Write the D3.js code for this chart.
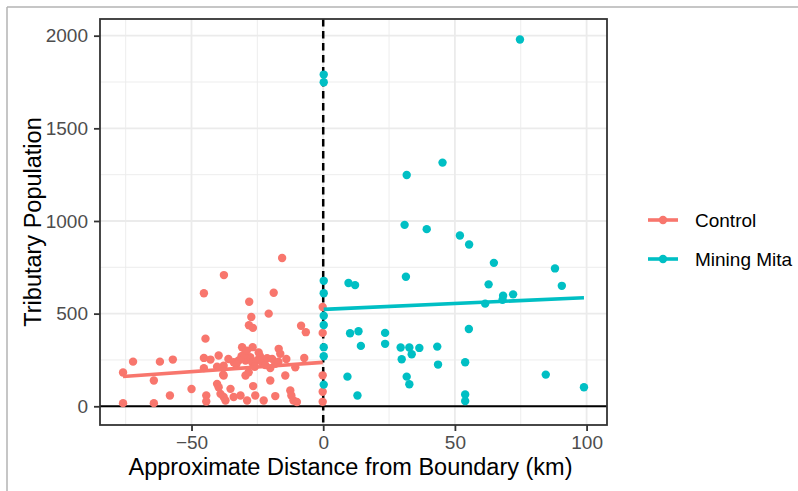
<!DOCTYPE html>
<html>
<head>
<meta charset="utf-8">
<script src="https://cdn.jsdelivr.net/npm/d3@7"></script>
<style>
  html, body { margin: 0; padding: 0; background: #fff; }
  svg { display: block; font-family: "Liberation Sans", Arial, sans-serif; }
</style>
</head>
<body>
<svg id="chart" width="798" height="491"></svg>
<script>
// ---- data ----
const groups = ["Control", "Mining Mita"];
const groupColors = ["#F8766D", "#00BFC4"];

const controlDist = [-15.6,-37.7,-45.3,-18.8,-28.1,-27.3,-20.7,-28.2,-26.7,-8.4,-6.6,-44.7,-30.8,-26.8,-16.9,-16.3,-72.2,-62,-57.1,-45.3,-42.8,-39.7,-76,-64.3,-58.2,-50,-76,-64.3,-44.4,-44.4,-7.2,-10.6,-37.8,-29.5,-28.3,-14.4,-20.1,-40.3,-39.7,-26.6,-35.2,-12.5,-12.1,-39,-37.8,-37.1,-34,-31.4,-28.9,-25.8,-22.6,-18.2,-11.3,-10,
  -37.8,-34,-32.1,-29.5,-27.7,-27,-25.1,-23.2,-21.3,-19.4,-18.2,-20.1,-45.3,-40.3,-38,-31,-24,-22,-33,-26,-14,-17,-30,-36,-24.5,-29,
  -0.2,-0.2,-0.2,-0.2,-0.2];
const controlPop = [800,708,610,613,564,482,500,437,423,435,400,365,319,319,310,283,241,241,252,261,252,274,182,139,58,93,17,17,58,26,261,211,166,166,184,166,139,121,103,109,94,85,58,67,50,31,50,58,31,58,31,55,31,23,
  219,238,247,247,265,238,247,238,260,256,229,206,206,214,170,270,270,222,226,213,255,240,280,255,290,300,
  536,396,167,78,24];

const mitaDist = [0.2,0.2,0.2,0.2,0.2,0.2,0.2,0.2,0.2,
  45.3,31.7,30.9,39.3,51.9,55.4,64.8,88,90.6,62.8,9.6,12.1,31.4,68.3,72.1,68.1,61.5,55.3,10.2,13.4,14.3,23.5,23.5,29.4,32.7,36.5,43.3,33.6,29.8,43.6,53.9,9.2,31.7,32.7,84.5,99,13,53.9,53.9,74.7];
const mitaPop = [1790,1749,677,610,489,439,319,270,117,
  1315,1248,979,956,922,873,774,744,650,658,665,654,699,597,604,575,554,417,394,405,326,396,337,317,317,315,322,281,254,225,238,160,160,119,171,103,58,64,28,1979];

// fitted linear trend lines (end points)
const controlFitDist = [-76, -0.2];
const controlFitPop = [161, 237];
const mitaFitDist = [0.2, 99];
const mitaFitPop = [523, 586];

const xTicks = [-50, 0, 50, 100];
const xMinor = [-75, -25, 25, 75];
const yTicks = [0, 500, 1000, 1500, 2000];
const yMinor = [250, 750, 1250, 1750];
const xDomain = [-84.75, 107.75];
const yDomain = [-101, 2090];

// ---- layout ----
const svg = d3.select("#chart");
const P = { left: 100, right: 607, top: 19, bottom: 425 };
const x = d3.scaleLinear().domain(xDomain).range([P.left, P.right]);
const y = d3.scaleLinear().domain(yDomain).range([P.bottom, P.top]);

// outer frame (screenshot border)
svg.append("line").attr("x1", 7).attr("x2", 7).attr("y1", 7).attr("y2", 491)
  .attr("stroke", "#b3b3b3").attr("stroke-width", 1.5);
svg.append("line").attr("x1", 7).attr("x2", 798).attr("y1", 7).attr("y2", 7)
  .attr("stroke", "#b3b3b3").attr("stroke-width", 1.5);

const panel = svg.append("g");
// minor grid
panel.selectAll(".vminor").data(xMinor).join("line")
  .attr("x1", d => x(d)).attr("x2", d => x(d)).attr("y1", P.top).attr("y2", P.bottom)
  .attr("stroke", "#ebebeb").attr("stroke-width", 0.9);
panel.selectAll(".hminor").data(yMinor).join("line")
  .attr("y1", d => y(d)).attr("y2", d => y(d)).attr("x1", P.left).attr("x2", P.right)
  .attr("stroke", "#ebebeb").attr("stroke-width", 0.9);
// major grid
panel.selectAll(".vmajor").data(xTicks).join("line")
  .attr("x1", d => x(d)).attr("x2", d => x(d)).attr("y1", P.top).attr("y2", P.bottom)
  .attr("stroke", "#ebebeb").attr("stroke-width", 1.8);
panel.selectAll(".hmajor").data(yTicks).join("line")
  .attr("y1", d => y(d)).attr("y2", d => y(d)).attr("x1", P.left).attr("x2", P.right)
  .attr("stroke", "#ebebeb").attr("stroke-width", 1.8);

// reference lines
panel.append("line").attr("x1", P.left).attr("x2", P.right).attr("y1", y(0)).attr("y2", y(0))
  .attr("stroke", "#000").attr("stroke-width", 2);
panel.append("line").attr("x1", x(0)).attr("x2", x(0)).attr("y1", P.top).attr("y2", P.bottom)
  .attr("stroke", "#000").attr("stroke-width", 2.5).attr("stroke-dasharray", "7.5,4.5");

// points
const series = [
  { name: groups[0], color: groupColors[0], xs: controlDist, ys: controlPop, fx: controlFitDist, fy: controlFitPop },
  { name: groups[1], color: groupColors[1], xs: mitaDist, ys: mitaPop, fx: mitaFitDist, fy: mitaFitPop }
];
series.forEach(s => {
  const pts = s.xs.map((d, i) => [d, s.ys[i]]);
  panel.append("g").selectAll("circle").data(pts).join("circle")
    .attr("cx", d => x(d[0])).attr("cy", d => y(d[1])).attr("r", 4.2)
    .attr("fill", s.color);
});

// linear trend lines
const lineGen = d3.line().x(d => x(d[0])).y(d => y(d[1]));
series.forEach(s => {
  panel.append("path")
    .datum(s.fx.map((d, i) => [d, s.fy[i]]))
    .attr("d", lineGen)
    .attr("fill", "none").attr("stroke", s.color).attr("stroke-width", 3.6);
});

// panel border
svg.append("rect").attr("x", P.left).attr("y", P.top)
  .attr("width", P.right - P.left).attr("height", P.bottom - P.top)
  .attr("fill", "none").attr("stroke", "#333").attr("stroke-width", 1.8);

// axes
const xAxis = svg.append("g").attr("transform", `translate(0,${P.bottom})`)
  .call(d3.axisBottom(x).tickValues(xTicks).tickSize(6).tickPadding(5).tickFormat(d3.format("d")));
const yAxis = svg.append("g").attr("transform", `translate(${P.left},0)`)
  .call(d3.axisLeft(y).tickValues(yTicks).tickSize(6).tickPadding(6).tickFormat(d3.format("d")));
[xAxis, yAxis].forEach(g => {
  g.select(".domain").remove();
  g.selectAll(".tick line").attr("stroke", "#333").attr("stroke-width", 1.8);
  g.selectAll(".tick text").attr("fill", "#4d4d4d")
    .style("font-size", "19px").style("font-family", "'Liberation Sans', Arial, sans-serif");
});
xAxis.selectAll(".tick text").text(d => d < 0 ? "\u2212" + Math.abs(d) : d);

// axis titles
svg.append("text").attr("x", (P.left + P.right) / 2 - 3).attr("y", 475)
  .attr("text-anchor", "middle").style("font-size", "23.5px").attr("fill", "#000")
  .text("Approximate Distance from Boundary (km)");
svg.append("text").attr("transform", `translate(41,${(P.top + P.bottom) / 2}) rotate(-90)`)
  .attr("text-anchor", "middle").style("font-size", "23.5px").attr("fill", "#000")
  .text("Tributary Population");

// legend
const legend = svg.append("g");
const legY = [220, 259];
series.forEach((s, i) => {
  legend.append("line").attr("x1", 648).attr("x2", 678).attr("y1", legY[i]).attr("y2", legY[i])
    .attr("stroke", s.color).attr("stroke-width", 3.6);
  legend.append("circle").attr("cx", 663).attr("cy", legY[i]).attr("r", 4.2).attr("fill", s.color);
  legend.append("text").attr("x", 695).attr("y", legY[i]).attr("dy", "0.35em")
    .style("font-size", "19px").attr("fill", "#000").text(s.name);
});
</script>
</body>
</html>
